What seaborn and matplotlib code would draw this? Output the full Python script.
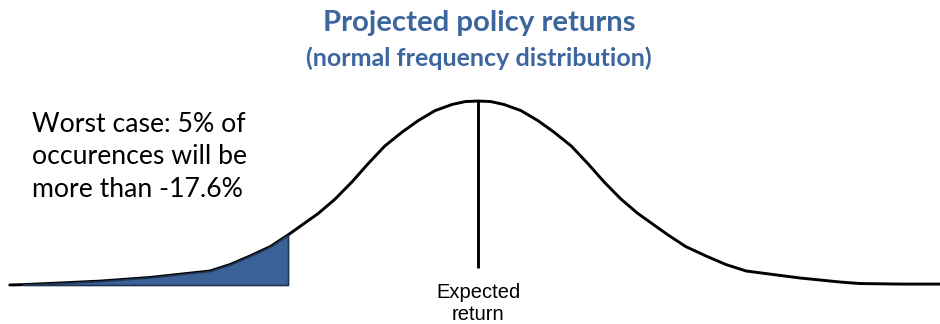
import pandas as pd
import seaborn as sns
import matplotlib.pyplot as plt

# Values (return in %, relative frequency with peak = 100)
returns = [-50.7, -49.1, -44.7, -40.0, -34.0, -26.9, -24.5, -22.1, -19.7, -17.6,
           -15.6, -14.0, -12.0, -10.0, -8.1, -6.1, -4.0, -2.1, -0.1, 1.9, 3.5,
           5.0,
           6.5, 8.1, 10.1, 12.1, 14.0, 16.1, 18.1, 20.0, 22.0, 24.0, 25.6, 27.6,
           29.7, 32.1, 34.5, 36.9, 43.3, 48.1, 50.4, 55.2, 60.0]
frequency = [0.0, 0.2, 1.1, 2.1, 4.1, 7.6, 11.1, 15.8, 20.9, 27.2,
             33.7, 38.9, 46.7, 56.0, 65.8, 75.5, 83.2, 89.4, 94.8, 98.1, 99.7,
             100.0,
             99.7, 98.1, 94.8, 89.4, 83.2, 75.5, 65.8, 56.0, 46.7, 38.9, 33.7, 27.2,
             20.9, 15.8, 11.1, 7.6, 3.8, 1.6, 0.8, 0.5, 0.5]
expected_return = 5.0
worst_case = -17.6

title = "Projected policy returns"
subtitle = "(normal frequency distribution)"
note_lines = ["Worst case: 5% of", "occurences will be", "more than -17.6%"]
marker_lines = ["Expected", "return"]

df = pd.DataFrame({"ret": returns, "freq": frequency})
tail = df[(df["ret"] <= worst_case) & (df["ret"] > returns[0])]

sns.set_style("white")
fig = plt.figure(figsize=(9.4, 3.24), dpi=100)
ax = fig.add_axes([0, 0, 1, 1])

sns.lineplot(data=df, x="ret", y="freq", ax=ax, color="black", linewidth=2.1,
             sort=False, estimator=None)
ax.fill_between(tail["ret"], 0, tail["freq"], facecolor="#3B6196",
                edgecolor="#1E3553", linewidth=1.2, zorder=3)
ax.vlines(expected_return, 9.2, max(frequency), color="black", linewidth=2.1)

ax.set_xlim(-51.86, 59.95)
ax.set_ylim(-21.2, 154.9)
ax.axis("off")


def fy(py):
    # pixel row from the top -> figure fraction
    return 1 - py / 324


calibri_like = ["Lato", "DejaVu Sans"]
blue = "#3C669E"
fig.text(479 / 940, fy(31.5), title, ha="center", va="baseline",
         fontsize=21.2, fontweight="bold", color=blue, family=calibri_like)
fig.text(479 / 940, fy(66.5), subtitle, ha="center", va="baseline",
         fontsize=18, fontweight="bold", color=blue, family=calibri_like)

for i, line in enumerate(note_lines):
    fig.text(32 / 940, fy(131.7 + 32.5 * i), line, ha="left", va="baseline",
             fontsize=19.2, color="black", family=calibri_like)

for i, line in enumerate(marker_lines):
    fig.text(478 / 940, fy(298 + 22 * i), line, ha="center", va="baseline",
             fontsize=14.5, color="black", family=["Liberation Sans", "DejaVu Sans"])

fig.savefig("out.png", dpi=100)
